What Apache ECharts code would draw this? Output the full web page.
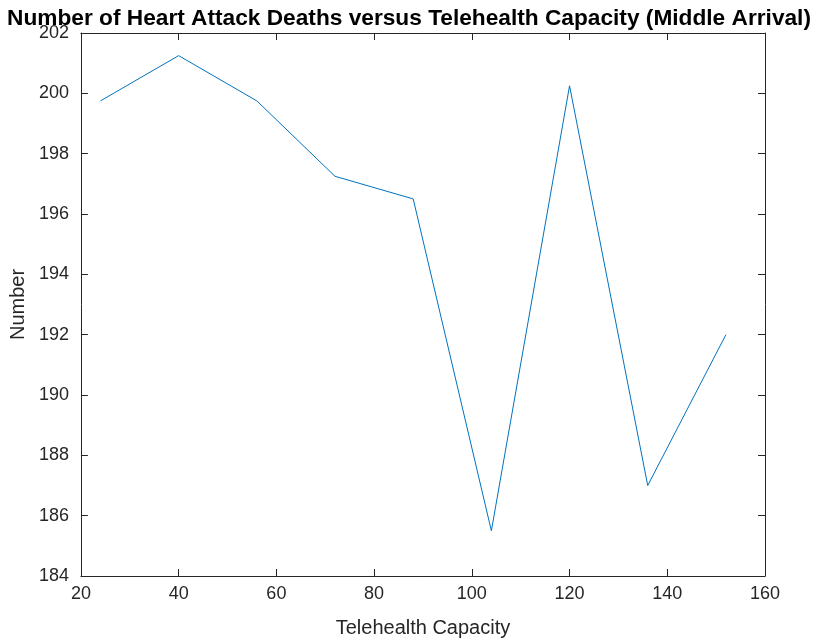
<!DOCTYPE html>
<html lang="en">
<head>
    <meta charset="UTF-8">
    <title>Heart Attack Deaths vs Telehealth Capacity</title>
    <style>
        html, body { margin: 0; padding: 0; background: #fff; }
    </style>
</head>
<body>
    <div id="chart" style="width:818px; height:644px"></div>

    <script src="https://cdn.jsdelivr.net/npm/echarts@6/dist/echarts.min.js"></script>
    <script>
        // telehealth capacity (x) and death counts (y)
        const capacity = [24, 40, 56, 72, 88, 104, 120, 136, 152];
        const deaths = [199.75, 201.25, 199.75, 197.25, 196.5, 185.5, 200.25, 187, 192];

        const axisColor = '#262626';
        const font = 'Liberation Sans';

        const chart = echarts.init(document.querySelector('#chart'));

        // 盒子样式：上/右两个辅助轴只画刻度
        const boxAxis = (pos, min, max, step) => ({
            type: 'value',
            position: pos,
            min: min, max: max, interval: step,
            axisLine: { show: true, lineStyle: { color: axisColor, width: 1 } },
            axisTick: { show: true, inside: true, length: 7, lineStyle: { color: axisColor } },
            axisLabel: { show: false },
            splitLine: { show: false }
        });

        chart.setOption({
            animation: false,
            title: {
                text: 'Number of Heart Attack Deaths versus Telehealth Capacity (Middle Arrival)',
                left: 'center',
                top: 2,
                textStyle: { color: '#000', fontFamily: font, fontWeight: 'bold', fontSize: 22.7 }
            },
            grid: { left: 78, right: 53, top: 33, bottom: 68, containLabel: false },
            xAxis: [{
                type: 'value',
                position: 'bottom',
                min: 20, max: 160, interval: 20,
                name: 'Telehealth Capacity',
                nameLocation: 'middle',
                nameGap: 42,
                nameTextStyle: { color: axisColor, fontFamily: font, fontSize: 20 },
                axisLine: { show: true, lineStyle: { color: axisColor, width: 1 } },
                axisTick: { show: true, inside: true, length: 7, lineStyle: { color: axisColor } },
                axisLabel: { color: axisColor, fontFamily: font, fontSize: 18, margin: 9 },
                splitLine: { show: false }
            }, boxAxis('top', 20, 160, 20)],
            yAxis: [{
                type: 'value',
                position: 'left',
                min: 184, max: 202, interval: 2,
                name: 'Number',
                nameLocation: 'middle',
                nameGap: 52,
                nameTextStyle: { color: axisColor, fontFamily: font, fontSize: 20 },
                axisLine: { show: true, lineStyle: { color: axisColor, width: 1 } },
                axisTick: { show: true, inside: true, length: 7, lineStyle: { color: axisColor } },
                axisLabel: { color: axisColor, fontFamily: font, fontSize: 18, margin: 12 },
                splitLine: { show: false }
            }, boxAxis('right', 184, 202, 2)],
            series: [{
                type: 'line',
                xAxisIndex: 0,
                yAxisIndex: 0,
                data: capacity.map((c, i) => [c, deaths[i]]),
                showSymbol: false,
                lineStyle: { color: '#0072BD', width: 1 },
                itemStyle: { color: '#0072BD' }
            }]
        });
    </script>
</body>
</html>
